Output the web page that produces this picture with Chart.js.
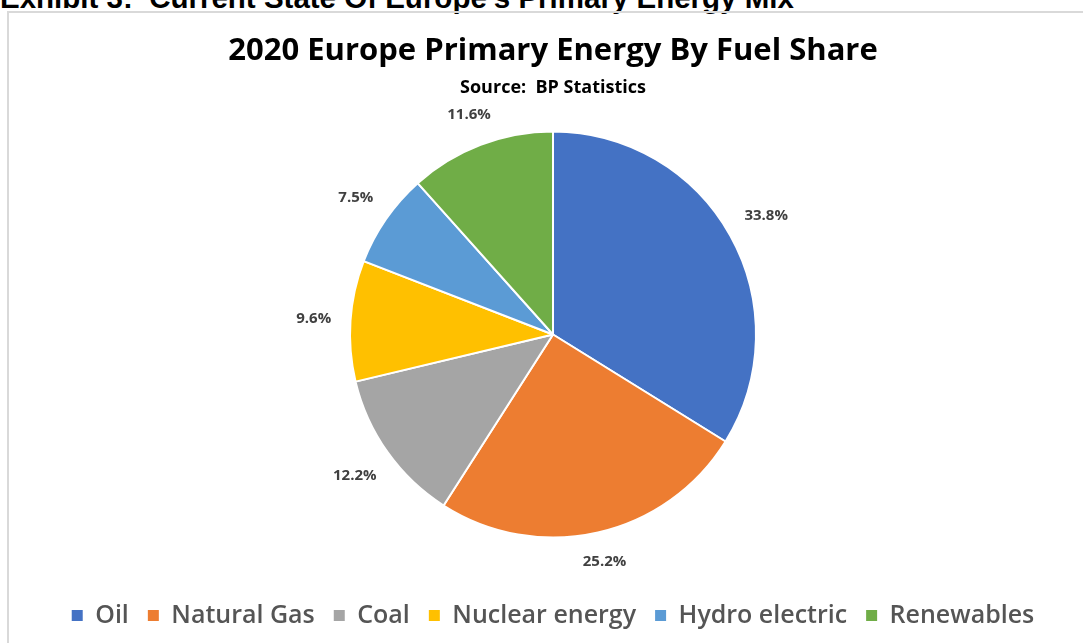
<!DOCTYPE html>
<html>
<head>
<meta charset="utf-8">
<title>Europe Primary Energy Mix</title>
<script src="https://cdn.jsdelivr.net/npm/chart.js@4"></script>
<style>
  html, body { margin: 0; padding: 0; background: #fff; overflow: hidden; width: 1083px; height: 643px; }
  #exhibit {
    position: absolute; left: 0; top: -17px; white-space: nowrap;
    font: bold 29.5px "Liberation Sans", Arial, sans-serif; line-height: 30px; color: #000;
  }
  #frame {
    position: absolute; left: 7px; top: 11px; width: 1120px; height: 700px;
    border: 2px solid #d9d9d9; box-sizing: border-box;
  }
  #fuelChart { position: absolute; left: 0; top: 0; }
</style>
</head>
<body>
<div id="exhibit">Exhibit 3:&nbsp; Current State Of Europe's Primary Energy Mix</div>
<div id="frame"></div>
<canvas id="fuelChart" width="1083" height="643"></canvas>
<script>
// 2020 fuel shares, clockwise from 12 o'clock
const fuels = ['Oil', 'Natural Gas', 'Coal', 'Nuclear energy', 'Hydro electric', 'Renewables'];
const shares = [33.8, 25.2, 12.2, 9.6, 7.5, 11.6];
const fuelColors = ['#4472C4', '#ED7D31', '#A5A5A5', '#FFC000', '#5B9BD5', '#70AD47'];

const font = '"Open Sans", Lato, sans-serif';

// percentage labels sitting just outside each slice
const pctLabels = {
  id: 'pctLabels',
  afterDatasetsDraw(chart) {
    const ctx = chart.ctx;
    const meta = chart.getDatasetMeta(0);
    ctx.save();
    ctx.font = 'bold 15px ' + font;
    ctx.fillStyle = '#404040';
    ctx.textAlign = 'center';
    ctx.textBaseline = 'middle';
    meta.data.forEach((arc, i) => {
      const { x, y, startAngle, endAngle, outerRadius } =
        arc.getProps(['x', 'y', 'startAngle', 'endAngle', 'outerRadius'], true);
      const mid = (startAngle + endAngle) / 2;
      const text = shares[i].toFixed(1) + '%';
      const w = ctx.measureText(text).width;
      const c = Math.cos(mid), s = Math.sin(mid);
      const d = outerRadius + 19 + Math.abs(c) * w / 2 + Math.abs(s) * 6;
      ctx.fillText(text, x + c * d, y + s * d);
    });
    ctx.restore();
  }
};

new Chart(document.getElementById('fuelChart'), {
  type: 'pie',
  data: {
    labels: fuels,
    datasets: [{
      data: shares,
      backgroundColor: fuelColors,
      borderColor: '#ffffff',
      borderWidth: 2,
      hoverOffset: 0
    }]
  },
  options: {
    responsive: false,
    animation: false,
    radius: 203,
    layout: { padding: { top: 0, left: 23, right: 0, bottom: 5 } },
    plugins: {
      title: {
        display: true,
        text: '2020 Europe Primary Energy By Fuel Share',
        color: '#000',
        font: { family: font, size: 31, weight: 'bold', lineHeight: 1.2 },
        padding: { top: 33, bottom: 0 }
      },
      subtitle: {
        display: true,
        text: 'Source:  BP Statistics',
        color: '#000',
        font: { family: font, size: 18, weight: 'bold', lineHeight: 1.2 },
        padding: { top: 6.5, bottom: 1.7 }
      },
      legend: {
        position: 'bottom',
        // empty title only adds room above the legend row
        title: { display: true, text: '', font: { size: 10, lineHeight: 1.2 }, padding: { top: 3, bottom: 0 } },
        labels: {
          color: '#555555',
          font: { family: font, size: 25, weight: '600' },
          boxWidth: 11,
          boxHeight: 11,
          padding: 19,
          generateLabels: (chart) =>
            Chart.overrides.pie.plugins.legend.labels.generateLabels(chart)
              .map(l => ({ ...l, lineWidth: 0 }))
        }
      },
      tooltip: { enabled: false }
    }
  },
  plugins: [pctLabels]
});
</script>
</body>
</html>
